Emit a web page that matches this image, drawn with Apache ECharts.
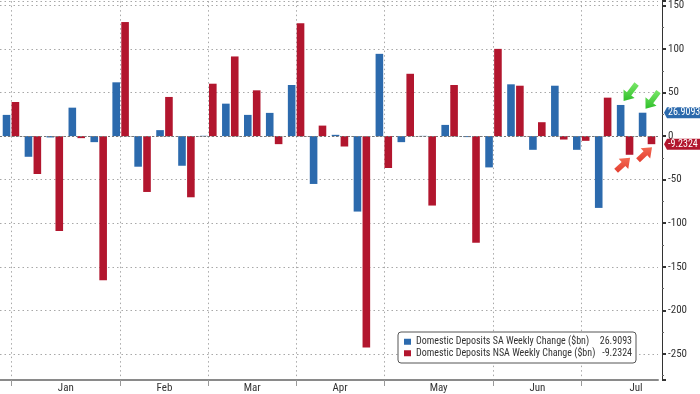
<!DOCTYPE html>
<html><head><meta charset="utf-8">
<script src="https://cdn.jsdelivr.net/npm/echarts@6/dist/echarts.min.js"></script>
<style>html,body{margin:0;padding:0;background:#fff}#c{width:700px;height:394px}</style>
</head><body><div id="c"></div>
<script>
const weeks = ['2023-01-02','2023-01-09','2023-01-16','2023-01-23','2023-01-30',
  '2023-02-06','2023-02-13','2023-02-20','2023-02-27',
  '2023-03-06','2023-03-13','2023-03-20','2023-03-27',
  '2023-04-03','2023-04-10','2023-04-17','2023-04-24',
  '2023-05-01','2023-05-08','2023-05-15','2023-05-22','2023-05-29',
  '2023-06-05','2023-06-12','2023-06-19','2023-06-26',
  '2023-07-03','2023-07-10','2023-07-17','2023-07-24'];
const monthNames = ['Jan','Feb','Mar','Apr','May','Jun','Jul'];
const monthStartIdx = [0,5,9,13,17,22,26];
const monthMidIdx = [2.5,7,11,15,19.5,24,28.5];
const saName = 'Domestic Deposits SA Weekly Change ($bn)';
const nsaName = 'Domestic Deposits NSA Weekly Change ($bn)';
const saChange = [24.4,-23.7,-1.5,32.7,-6.9,61.8,-35.1,6.9,-34.0,0.4,37.3,24.4,26.7,58.7,-54.9,1.5,-86.6,94.5,-6.9,0.3,12.9,-1.1,-35.9,59.5,-15.7,57.9,-15.7,-82.4,35.8,26.9093];
const nsaChange = [39.2,-43.5,-109,-2.3,-165.5,131,-64.1,45,-70.2,60.2,91.5,52.6,-9.2,129.6,12.1,-11.9,-242.6,-36.6,71.6,-79.7,58.7,-122.4,100.2,57.9,16,-3.9,-5.4,44.2,-21.4,-9.2324];
const yMin = -280, yMax = 155;

const BLUE = '#2c6aad', RED = '#b2162e';
const FONT = '"Roboto Condensed","Open Sans Condensed",sans-serif';
const lastSA = saChange[saChange.length-1], lastNSA = nsaChange[nsaChange.length-1];

const chart = echarts.init(document.getElementById('c'), null, {renderer:'canvas'});
const dotted = {color:'#a8a8a8', width:1, type:[1.5,3]};
chart.setOption({
  animation:false,
  grid:{left:-1, right:42, top:0, bottom:14},
  legend:{
    orient:'vertical', left:398, top:332,
    data:[saName, nsaName],
    icon:'rect', itemWidth:7, itemHeight:6, itemGap:0,
    padding:[4,4,4,6],
    backgroundColor:'#fff', borderColor:'#555', borderWidth:1, borderRadius:3,
    formatter: function(name){
      const v = name === saName ? lastSA : lastNSA;
      return '{n|' + name + '}{v|' + v + '}';
    },
    textStyle:{fontFamily:FONT, fontSize:10, color:'#333', lineHeight:11.5,
      rich:{n:{width:179, fontFamily:FONT, fontSize:10, color:'#333'},
            v:{width:37, align:'right', fontFamily:FONT, fontSize:10, color:'#333'}}}
  },
  xAxis:[{
    type:'category', data:weeks, boundaryGap:true,
    axisLine:{show:true, onZero:false, lineStyle:{color:'#8a8a8a', width:2}},
    axisTick:{show:true, alignWithLabel:true, length:6, interval:(i)=>monthStartIdx.includes(i), lineStyle:{color:'#999'}},
    axisLabel:{show:false},
    splitLine:{show:true, alignWithLabel:true, interval:(i)=>monthStartIdx.includes(i), lineStyle:dotted}
  },{
    type:'value', min:-0.5, max:weeks.length-0.5, position:'bottom',
    axisLine:{show:false, onZero:false}, axisTick:{show:false}, splitLine:{show:false},
    axisLabel:{show:true, customValues:monthMidIdx, margin:3,
      formatter:(v)=>monthNames[monthMidIdx.indexOf(v)] || '',
      fontFamily:FONT, fontSize:11, color:'#333'}
  }],
  yAxis:{
    type:'value', position:'right', offset:4, min:yMin, max:yMax, splitNumber:8,
    axisLine:{show:true, onZero:false, lineStyle:{color:'#333', width:1}},
    axisTick:{show:true, inside:false, length:4, lineStyle:{color:'#333', width:2}},
    minorTick:{show:true, splitNumber:2, length:2, lineStyle:{color:'#666'}},
    axisLabel:{margin:6, showMinLabel:false, showMaxLabel:false, fontFamily:FONT, fontSize:11, color:'#333'},
    splitLine:{show:true, lineStyle:dotted}
  },
  series:[{
    name:saName, type:'bar', data:saChange, barWidth:7.6, barGap:'17%',
    itemStyle:{color:BLUE}
  },{
    name:nsaName, type:'bar', data:nsaChange, barWidth:7.6, barGap:'17%',
    itemStyle:{color:RED}
  },{
    type:'line', data:[], silent:true,
    markLine:{symbol:'none', silent:true, label:{show:false},
      lineStyle:{color:'#777', type:[2,2], width:1}, data:[{yAxis:0}]}
  }]
});

function arrow(tip, tail, shaftW, headW, headL){
  const dx = tip[0]-tail[0], dy = tip[1]-tail[1];
  const L = Math.hypot(dx,dy), ux = dx/L, uy = dy/L, nx = -uy, ny = ux;
  const nk = [tip[0]-ux*headL, tip[1]-uy*headL];
  return [
    [tail[0]+nx*shaftW/2, tail[1]+ny*shaftW/2],
    [nk[0]+nx*shaftW/2, nk[1]+ny*shaftW/2],
    [nk[0]+nx*headW/2, nk[1]+ny*headW/2],
    tip,
    [nk[0]-nx*headW/2, nk[1]-ny*headW/2],
    [nk[0]-nx*shaftW/2, nk[1]-ny*shaftW/2],
    [tail[0]-nx*shaftW/2, tail[1]-ny*shaftW/2]
  ];
}
const g = [];
[weeks.length-2, weeks.length-1].forEach(function(i){
  const pb = chart.convertToPixel({xAxisIndex:0, yAxisIndex:0}, [i, saChange[i]]);
  const pr = chart.convertToPixel({xAxisIndex:0, yAxisIndex:0}, [i, nsaChange[i]]);
  const gt = [pb[0]-1.5, pb[1]-4], gtail = [gt[0]+13, gt[1]-17];
  const rt = [pr[0]+5, pr[1]+3], rtail = [rt[0]-14, rt[1]+13];
  g.push({type:'polygon', shape:{points:arrow(gt, gtail, 5.5, 14, 9)},
    style:{fill:new echarts.graphic.LinearGradient(0,0,0,1,[{offset:0,color:'#7be86a'},{offset:1,color:'#2fbf2a'}])}, z:100});
  g.push({type:'polygon', shape:{points:arrow(rt, rtail, 5.5, 14, 9)},
    style:{fill:new echarts.graphic.LinearGradient(0,0,0,1,[{offset:0,color:'#f46a52'},{offset:1,color:'#e23d30'}])}, z:100});
});
// last-value tags on the right axis
[[lastSA, BLUE], [lastNSA, RED]].forEach(function(t){
  const y = chart.convertToPixel({yAxisIndex:0}, t[0]);
  const x0 = 664;
  g.push({type:'polygon', z:110, shape:{points:[[x0,y],[x0+3,y-5.5],[x0+40,y-5.5],[x0+40,y+5.5],[x0+3,y+5.5]]},
    style:{fill:t[1]}});
  g.push({type:'text', z:111, x:x0+4, y:y, style:{text:String(t[0]), fill:'#fff', font:'10px ' + FONT,
    verticalAlign:'middle', align:'left'}});
});
chart.setOption({graphic:g});
</script></body></html>
